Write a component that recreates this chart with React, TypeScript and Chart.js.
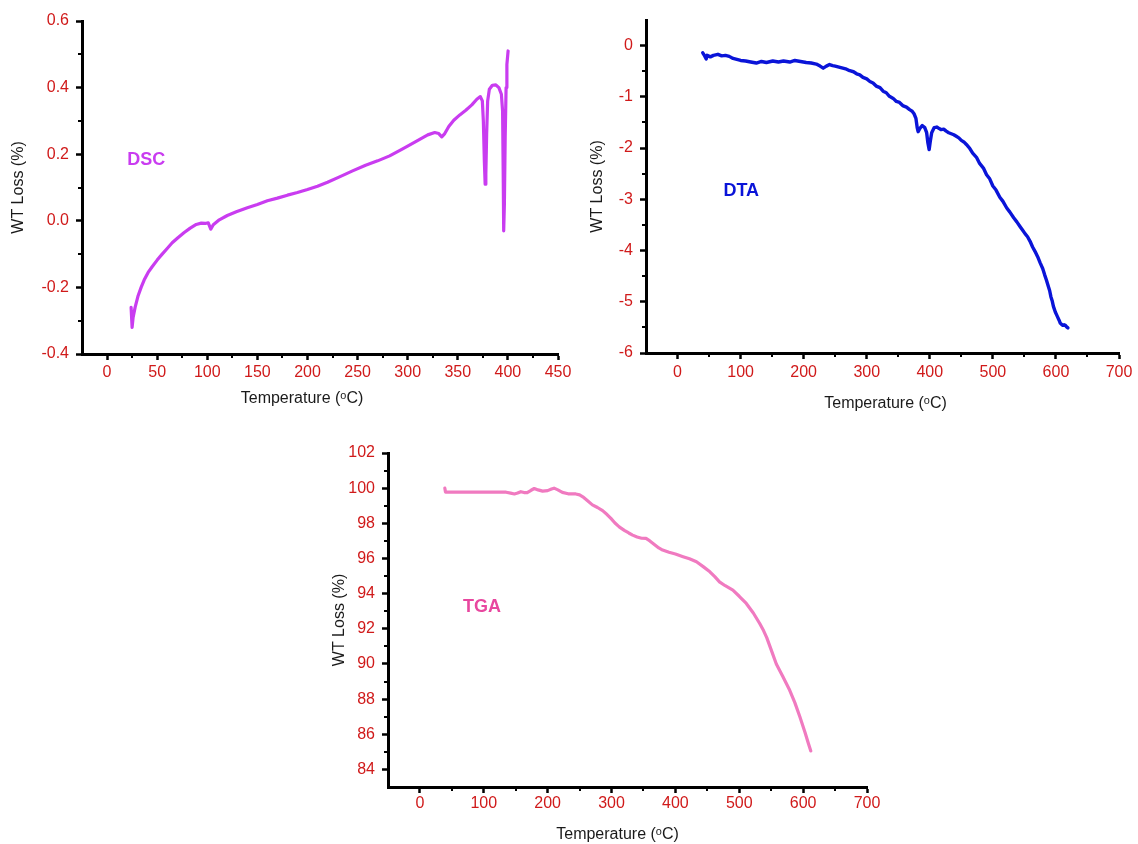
import React, { useEffect, useRef } from "react";
import { Chart, registerables } from "chart.js";

Chart.register(...registerables);

// ---------------- DATA ----------------
const dscTemp = [24, 25, 26, 28, 31, 34, 37, 41, 45, 50, 55, 60, 65, 71, 77, 83, 89, 94, 98, 101, 103.5, 106, 112, 120, 129, 140, 150, 160, 170, 180, 190, 200, 210, 220, 232, 245, 258, 270, 282, 295, 308, 320, 327, 331, 334, 337, 341, 346, 352, 358, 364, 369, 372.5, 374.5, 375.5, 376.5, 377.3, 378, 378.8, 379.8, 381.5, 384.5, 388, 391, 393.5, 394.7, 395.3, 395.8, 396.5, 397.3, 398.2, 399, 400.2];
const dscSignal = [-0.26, -0.32, -0.29, -0.26, -0.225, -0.2, -0.178, -0.155, -0.138, -0.118, -0.1, -0.083, -0.066, -0.05, -0.035, -0.022, -0.011, -0.007, -0.008, -0.006, -0.025, -0.012, 0.003, 0.016, 0.027, 0.039, 0.049, 0.06, 0.068, 0.077, 0.085, 0.094, 0.104, 0.116, 0.132, 0.15, 0.167, 0.18, 0.195, 0.216, 0.238, 0.258, 0.265, 0.262, 0.252, 0.262, 0.283, 0.302, 0.318, 0.332, 0.348, 0.365, 0.373, 0.36, 0.3, 0.18, 0.11, 0.14, 0.26, 0.36, 0.395, 0.407, 0.408, 0.4, 0.38, 0.33, 0.15, -0.03, 0.05, 0.25, 0.4, 0.47, 0.51];

const dtaTemp = [40, 43, 45.5, 47, 52, 57, 64, 70, 76, 82, 88, 94, 100, 108, 116, 125, 133, 141, 151, 160, 168, 178, 186, 195, 204, 212, 220, 226, 231, 236, 241, 246, 250, 256, 262, 268, 273, 279, 284, 289, 294, 300, 305, 310, 315, 321, 326, 331, 336, 342, 347, 352, 357, 363, 368, 372, 375, 378, 380, 381.5, 384, 388, 392, 395, 397, 399, 401, 403, 407, 411, 415, 418, 422, 426, 430, 434, 438, 442, 446, 450, 454, 458, 463, 468, 474, 479, 485, 490, 495, 500, 505, 511, 516, 522, 527, 533, 538, 543, 547, 551, 555, 559, 563, 567, 571, 575, 579, 582, 585, 588, 590, 592, 594, 596, 599, 602, 605, 607, 609, 611, 613, 615, 617, 619];
const dtaSignal = [-0.14, -0.2, -0.26, -0.19, -0.22, -0.19, -0.17, -0.2, -0.19, -0.21, -0.25, -0.27, -0.29, -0.3, -0.32, -0.34, -0.31, -0.33, -0.3, -0.32, -0.3, -0.32, -0.29, -0.31, -0.33, -0.34, -0.36, -0.4, -0.44, -0.4, -0.37, -0.39, -0.4, -0.42, -0.44, -0.46, -0.49, -0.51, -0.55, -0.57, -0.62, -0.65, -0.7, -0.73, -0.79, -0.82, -0.89, -0.92, -0.99, -1.03, -1.09, -1.11, -1.17, -1.2, -1.25, -1.28, -1.33, -1.42, -1.6, -1.68, -1.62, -1.56, -1.6, -1.7, -1.9, -2.03, -1.85, -1.7, -1.6, -1.59, -1.62, -1.64, -1.63, -1.67, -1.7, -1.72, -1.74, -1.77, -1.8, -1.85, -1.88, -1.93, -2.0, -2.1, -2.18, -2.3, -2.39, -2.52, -2.6, -2.74, -2.82, -2.96, -3.04, -3.17, -3.25, -3.36, -3.44, -3.53, -3.6, -3.67, -3.73, -3.82, -3.93, -4.02, -4.12, -4.24, -4.35, -4.47, -4.58, -4.7, -4.78, -4.9, -4.98, -5.09, -5.2, -5.28, -5.36, -5.42, -5.44, -5.46, -5.45, -5.46, -5.49, -5.51];

const tgaTemp = [39, 40, 60, 80, 100, 120, 135, 142, 148, 153, 158, 163, 168, 174, 179, 185, 192, 200, 206, 210, 216, 223, 232, 244, 250, 255, 262, 270, 278, 286, 293, 299, 305, 312, 320, 327, 333, 340, 347, 354, 360, 367, 374, 380, 390, 400, 412, 422, 433, 443, 454, 462, 469, 478, 490, 500, 511, 522, 532, 538, 543, 550, 558, 568, 579, 587, 595, 603, 608, 612];
const tgaWeight = [100.0, 99.78, 99.78, 99.78, 99.78, 99.78, 99.77, 99.72, 99.67, 99.72, 99.8, 99.75, 99.75, 99.88, 99.98, 99.9, 99.83, 99.86, 99.95, 100.0, 99.9, 99.76, 99.68, 99.67, 99.62, 99.51, 99.3, 99.05, 98.9, 98.72, 98.5, 98.28, 98.03, 97.8, 97.6, 97.45, 97.33, 97.22, 97.15, 97.14, 97.0, 96.8, 96.6, 96.48, 96.35, 96.25, 96.1, 95.98, 95.81, 95.55, 95.24, 94.95, 94.67, 94.45, 94.2, 93.85, 93.44, 92.9, 92.3, 91.9, 91.5, 90.8, 90.0, 89.3, 88.5, 87.8, 86.98, 86.1, 85.5, 85.05];

// tick labels
const dscXTicks = [0, 50, 100, 150, 200, 250, 300, 350, 400, 450];
const dscXMinor = [25, 75, 125, 175, 225, 275, 325, 375, 425];
const dscYTicks = [-0.4, -0.2, 0.0, 0.2, 0.4, 0.6];
const dscYMinor = [-0.3, -0.1, 0.1, 0.3, 0.5];

const dtaXTicks = [0, 100, 200, 300, 400, 500, 600, 700];
const dtaXMinor = [50, 150, 250, 350, 450, 550, 650];
const dtaYTicks = [-6, -5, -4, -3, -2, -1, 0];
const dtaYMinor = [-5.5, -4.5, -3.5, -2.5, -1.5, -0.5];

const tgaXTicks = [0, 100, 200, 300, 400, 500, 600, 700];
const tgaXMinor = [50, 150, 250, 350, 450, 550, 650];
const tgaYTicks = [84, 86, 88, 90, 92, 94, 96, 98, 100, 102];
const tgaYMinor = [85, 87, 89, 91, 93, 95, 97, 99, 101];

// ---------------- STYLE ----------------
const FONT = '"Liberation Sans", Arial, Helvetica, sans-serif';
const TICK_RED = "#d01a1a";

type Cfg = {
  left: number; top: number; w: number; h: number;
  padTop: number; padRight: number; yW: number; xH: number;
  xMin: number; xMax: number; yMin: number; yMax: number;
  xTicks: number[]; xMinor: number[]; yTicks: number[]; yMinor: number[];
  xs: number[]; ys: number[];
  color: string; labelColor: string; label: string; labelX: number; labelY: number;
  lineWidth: number;
  yDecimals: number; xPad: number;
  xTitleDx: number; xTitleDy: number; yTitleDx: number;
};

const charts: Cfg[] = [
  {
    left: 0, top: 0, w: 578, h: 420, padTop: 21, padRight: 20, yW: 82, xH: 66,
    xMin: -25, xMax: 450, yMin: -0.4, yMax: 0.6,
    xTicks: dscXTicks, xMinor: dscXMinor, yTicks: dscYTicks, yMinor: dscYMinor,
    xs: dscTemp, ys: dscSignal,
    color: "#c93cf0", labelColor: "#c93cf0", label: "DSC", labelX: 39, labelY: 0.183,
    lineWidth: 3.2,
    yDecimals: 1, xPad: 3, xTitleDx: -18, xTitleDy: 45, yTitleDx: 63,
  },
  {
    left: 570, top: 0, w: 568, h: 420, padTop: 20, padRight: 19, yW: 76, xH: 67,
    xMin: -50, xMax: 700, yMin: -6, yMax: 0.5,
    xTicks: dtaXTicks, xMinor: dtaXMinor, yTicks: dtaYTicks, yMinor: dtaYMinor,
    xs: dtaTemp, ys: dtaSignal,
    color: "#0a14d8", labelColor: "#0a14d8", label: "DTA", labelX: 101, labelY: -2.83,
    lineWidth: 3.4,
    yDecimals: 0, xPad: 4, xTitleDx: 3, xTitleDy: 51, yTitleDx: 48,
  },
  {
    left: 320, top: 430, w: 570, h: 414, padTop: 23, padRight: 23, yW: 68, xH: 57,
    xMin: -50, xMax: 700, yMin: 83, yMax: 102,
    xTicks: tgaXTicks, xMinor: tgaXMinor, yTicks: tgaYTicks, yMinor: tgaYMinor,
    xs: tgaTemp, ys: tgaWeight,
    color: "#f07ac0", labelColor: "#e8479f", label: "TGA", labelX: 97, labelY: 93.23,
    lineWidth: 3.2,
    yDecimals: 0, xPad: 1, xTitleDx: -10, xTitleDy: 48, yTitleDx: 48,
  },
];

function makeDecor(cfg: Cfg) {
  return {
    id: "decor",
    afterDraw(chart: any) {
      const { ctx, chartArea } = chart;
      const sx = chart.scales.x;
      const sy = chart.scales.y;
      ctx.save();
      ctx.strokeStyle = "#000";
      ctx.lineWidth = 2;
      ctx.beginPath();
      for (const v of cfg.xMinor) {
        const px = Math.round(sx.getPixelForValue(v));
        ctx.moveTo(px, chartArea.bottom);
        ctx.lineTo(px, chartArea.bottom + 4);
      }
      for (const v of cfg.yMinor) {
        const py = Math.round(sy.getPixelForValue(v));
        ctx.moveTo(chartArea.left, py);
        ctx.lineTo(chartArea.left - 4, py);
      }
      ctx.stroke();

      // axis titles
      ctx.fillStyle = "#1a1a1a";
      ctx.font = `16px ${FONT}`;
      ctx.textAlign = "center";
      ctx.textBaseline = "middle";
      ctx.fillText(
        "Temperature (\u1D52C)",
        (chartArea.left + chartArea.right) / 2 + cfg.xTitleDx,
        chartArea.bottom + cfg.xTitleDy
      );
      ctx.save();
      ctx.translate(chartArea.left - cfg.yTitleDx, (chartArea.top + chartArea.bottom) / 2);
      ctx.rotate(-Math.PI / 2);
      ctx.fillText("WT Loss (%)", 0, 0);
      ctx.restore();

      // in-plot label
      ctx.fillStyle = cfg.labelColor;
      ctx.font = `bold 18px ${FONT}`;
      ctx.fillText(cfg.label, sx.getPixelForValue(cfg.labelX), sy.getPixelForValue(cfg.labelY));
      ctx.restore();
    },
  };
}

function ThermoChart({ cfg }: { cfg: Cfg }) {
  const ref = useRef<HTMLCanvasElement>(null);
  useEffect(() => {
    if (!ref.current) return;
    const points = cfg.xs.map((x, i) => ({ x, y: cfg.ys[i] }));
    const chart = new Chart(ref.current, {
      type: "line",
      data: {
        datasets: [
          {
            data: points,
            borderColor: cfg.color,
            backgroundColor: cfg.color,
            borderWidth: cfg.lineWidth,
            pointRadius: 0,
            tension: 0,
            borderJoinStyle: "round",
            borderCapStyle: "round",
            fill: false,
          },
        ],
      },
      options: {
        responsive: false,
        animation: false,
        devicePixelRatio: 1,
        layout: { padding: { top: cfg.padTop, right: cfg.padRight, left: 0, bottom: 0 } },
        plugins: { legend: { display: false }, tooltip: { enabled: false } },
        scales: {
          x: {
            type: "linear",
            min: cfg.xMin,
            max: cfg.xMax,
            afterBuildTicks: (s: any) => {
              s.ticks = cfg.xTicks.map((v) => ({ value: v }));
            },
            afterFit: (s: any) => {
              s.height = cfg.xH;
            },
            grid: { drawOnChartArea: false, drawTicks: true, tickLength: 6, tickWidth: 2.5, tickColor: "#000" },
            border: { display: true, color: "#000", width: 3 },
            ticks: {
              color: TICK_RED,
              font: { family: FONT, size: 16 },
              padding: cfg.xPad,
              maxRotation: 0,
              autoSkip: false,
              callback: (v: any) => String(v),
            },
          },
          y: {
            type: "linear",
            min: cfg.yMin,
            max: cfg.yMax,
            afterBuildTicks: (s: any) => {
              s.ticks = cfg.yTicks.map((v) => ({ value: v }));
            },
            afterFit: (s: any) => {
              s.width = cfg.yW;
            },
            grid: { drawOnChartArea: false, drawTicks: true, tickLength: 6, tickWidth: 2.5, tickColor: "#000" },
            border: { display: true, color: "#000", width: 3 },
            ticks: {
              color: TICK_RED,
              font: { family: FONT, size: 16 },
              padding: 7,
              autoSkip: false,
              callback: (v: any) => Number(v).toFixed(cfg.yDecimals),
            },
          },
        },
      },
      plugins: [makeDecor(cfg)],
    } as any);
    return () => chart.destroy();
  }, [cfg]);
  return (
    <canvas
      ref={ref}
      width={cfg.w}
      height={cfg.h}
      style={{ position: "absolute", left: cfg.left, top: cfg.top, width: cfg.w, height: cfg.h }}
    />
  );
}

export default function App() {
  return (
    <div
      style={{
        position: "absolute",
        left: 0,
        top: 0,
        width: 1138,
        height: 844,
        background: "#ffffff",
        overflow: "hidden",
      }}
    >
      {charts.map((c, i) => (
        <ThermoChart key={i} cfg={c} />
      ))}
    </div>
  );
}
